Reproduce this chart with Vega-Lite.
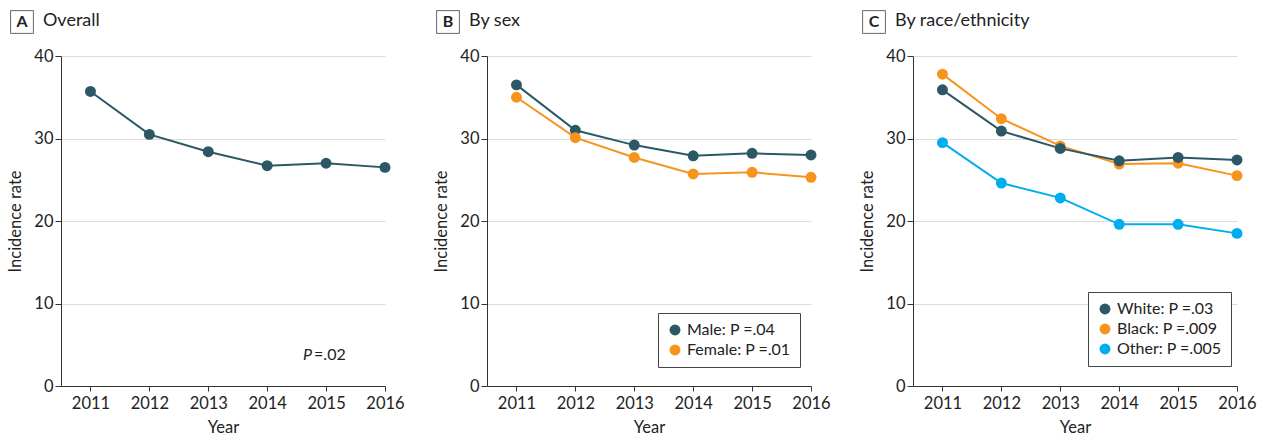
{
  "$schema": "https://vega.github.io/schema/vega-lite/v6.json",
  "padding": {"left": 7, "top": 8, "right": 5, "bottom": 2},
  "background": "white",
  "config": {
    "font": "Lato",
    "view": {"stroke": null},
    "axis": {
      "labelFontSize": 16.5,
      "titleFontSize": 16.5,
      "titleFontWeight": "normal",
      "labelColor": "#222",
      "titleColor": "#222",
      "domainColor": "#333",
      "tickColor": "#333",
      "gridColor": "#dcdcdc",
      "labelFont": "Lato",
      "titleFont": "Lato"
    },
    "legend": {
      "labelFontSize": 16,
      "labelFont": "Lato",
      "labelColor": "#222",
      "strokeColor": "#444",
      "fillColor": "white",
      "padding": 9,
      "rowPadding": 4,
      "symbolType": "circle",
      "symbolSize": 120,
      "symbolStrokeWidth": 0
    }
  },
  "spacing": 28,
  "resolve": {"scale": {"color": "independent"}, "legend": {"color": "independent"}},
  "hconcat": [
    {
      "width": 324,
      "height": 330,
      "data": {"values": [
        {"year": 2011, "rate": 35.7},
        {"year": 2012, "rate": 30.5},
        {"year": 2013, "rate": 28.4},
        {"year": 2014, "rate": 26.7},
        {"year": 2015, "rate": 27.0},
        {"year": 2016, "rate": 26.5}
      ]},
      "encoding": {
        "x": {"field": "year", "type": "quantitative", "title": "Year",
              "scale": {"domain": [2010.5, 2016], "nice": false, "zero": false},
              "axis": {"values": [2011, 2012, 2013, 2014, 2015, 2016], "format": "d", "grid": false, "tickSize": 5, "labelPadding": 4, "labelFlush": false, "titleY": 33}},
        "y": {"field": "rate", "type": "quantitative", "title": "Incidence rate",
              "scale": {"domain": [0, 40], "nice": false},
              "axis": {"values": [0, 10, 20, 30, 40], "tickSize": 6, "labelPadding": 2, "titlePadding": 10}}
      },
      "layer": [
        {"mark": {"type": "line", "strokeWidth": 2, "color": "#2c5866"}},
        {"mark": {"type": "point", "filled": true, "opacity": 1, "size": 120, "color": "#2c5866"}},
        {
          "data": {"values": [{"year": 2015, "rate": 3.8, "p": "P", "v": "=.02"}]},
          "mark": {"type": "text", "fontStyle": "italic", "fontSize": 16, "align": "right", "dx": -14, "color": "#222"},
          "encoding": {"text": {"field": "p"}}
        },
        {
          "data": {"values": [{"year": 2015, "rate": 3.8, "p": "P", "v": "=.02"}]},
          "mark": {"type": "text", "fontSize": 16, "align": "left", "dx": -12, "color": "#222"},
          "encoding": {"text": {"field": "v"}}
        },
        {
          "data": {"values": [{"year": 2010.5, "rate": 40, "letter": "A", "heading": "Overall"}]},
          "layer": [
            {"mark": {"type": "point", "shape": "square", "size": 520, "filled": false, "stroke": "#666", "strokeWidth": 1, "fill": "white", "opacity": 1, "xOffset": -39, "yOffset": -34}},
            {"mark": {"type": "text", "fontSize": 16, "fontWeight": "bold", "align": "center", "baseline": "middle", "dx": -39, "dy": -34, "color": "#222"}, "encoding": {"text": {"field": "letter"}}},
            {"mark": {"type": "text", "fontSize": 18, "align": "left", "baseline": "middle", "dx": -18, "dy": -35, "color": "#222"}, "encoding": {"text": {"field": "heading"}}}
          ]
        }
      ]
    },
    {
      "width": 324,
      "height": 330,
      "data": {"values": [
        {"year": 2011, "rate": 36.5, "sex": "Male"},
        {"year": 2012, "rate": 31.0, "sex": "Male"},
        {"year": 2013, "rate": 29.2, "sex": "Male"},
        {"year": 2014, "rate": 27.9, "sex": "Male"},
        {"year": 2015, "rate": 28.2, "sex": "Male"},
        {"year": 2016, "rate": 28.0, "sex": "Male"},
        {"year": 2011, "rate": 35.0, "sex": "Female"},
        {"year": 2012, "rate": 30.1, "sex": "Female"},
        {"year": 2013, "rate": 27.7, "sex": "Female"},
        {"year": 2014, "rate": 25.7, "sex": "Female"},
        {"year": 2015, "rate": 25.9, "sex": "Female"},
        {"year": 2016, "rate": 25.3, "sex": "Female"}
      ]},
      "encoding": {
        "x": {"field": "year", "type": "quantitative", "title": "Year",
              "scale": {"domain": [2010.5, 2016], "nice": false, "zero": false},
              "axis": {"values": [2011, 2012, 2013, 2014, 2015, 2016], "format": "d", "grid": false, "tickSize": 5, "labelPadding": 4, "labelFlush": false, "titleY": 33}},
        "y": {"field": "rate", "type": "quantitative", "title": "Incidence rate",
              "scale": {"domain": [0, 40], "nice": false},
              "axis": {"values": [0, 10, 20, 30, 40], "tickSize": 6, "labelPadding": 2, "titlePadding": 10}}
      },
      "layer": [
        {
          "mark": {"type": "line", "strokeWidth": 2},
          "encoding": {"color": {"field": "sex", "type": "nominal",
            "scale": {"domain": ["Male", "Female"], "range": ["#2c5866", "#f7941d"]},
            "legend": {"title": null, "orient": "none", "legendX": 171, "legendY": 257,
              "labelExpr": "datum.label == 'Male' ? 'Male: P =.04' : 'Female: P =.01'"}}}
        },
        {
          "mark": {"type": "point", "filled": true, "opacity": 1, "size": 120},
          "encoding": {"color": {"field": "sex", "type": "nominal",
            "scale": {"domain": ["Male", "Female"], "range": ["#2c5866", "#f7941d"]},
            "legend": {"title": null, "orient": "none", "legendX": 171, "legendY": 257,
              "labelExpr": "datum.label == 'Male' ? 'Male: P =.04' : 'Female: P =.01'"}}}
        },
        {
          "data": {"values": [{"year": 2010.5, "rate": 40, "letter": "B", "heading": "By sex"}]},
          "layer": [
            {"mark": {"type": "point", "shape": "square", "size": 520, "filled": false, "stroke": "#666", "strokeWidth": 1, "fill": "white", "opacity": 1, "xOffset": -39, "yOffset": -34}},
            {"mark": {"type": "text", "fontSize": 16, "fontWeight": "bold", "align": "center", "baseline": "middle", "dx": -39, "dy": -34, "color": "#222"}, "encoding": {"text": {"field": "letter"}}},
            {"mark": {"type": "text", "fontSize": 18, "align": "left", "baseline": "middle", "dx": -18, "dy": -35, "color": "#222"}, "encoding": {"text": {"field": "heading"}}}
          ]
        }
      ]
    },
    {
      "width": 324,
      "height": 330,
      "data": {"values": [
        {"year": 2011, "rate": 29.5, "race": "Other"},
        {"year": 2012, "rate": 24.6, "race": "Other"},
        {"year": 2013, "rate": 22.8, "race": "Other"},
        {"year": 2014, "rate": 19.6, "race": "Other"},
        {"year": 2015, "rate": 19.6, "race": "Other"},
        {"year": 2016, "rate": 18.5, "race": "Other"},
        {"year": 2011, "rate": 37.8, "race": "Black"},
        {"year": 2012, "rate": 32.4, "race": "Black"},
        {"year": 2013, "rate": 29.1, "race": "Black"},
        {"year": 2014, "rate": 26.9, "race": "Black"},
        {"year": 2015, "rate": 27.0, "race": "Black"},
        {"year": 2016, "rate": 25.5, "race": "Black"},
        {"year": 2011, "rate": 35.9, "race": "White"},
        {"year": 2012, "rate": 30.9, "race": "White"},
        {"year": 2013, "rate": 28.8, "race": "White"},
        {"year": 2014, "rate": 27.3, "race": "White"},
        {"year": 2015, "rate": 27.7, "race": "White"},
        {"year": 2016, "rate": 27.4, "race": "White"}
      ]},
      "encoding": {
        "x": {"field": "year", "type": "quantitative", "title": "Year",
              "scale": {"domain": [2010.5, 2016], "nice": false, "zero": false},
              "axis": {"values": [2011, 2012, 2013, 2014, 2015, 2016], "format": "d", "grid": false, "tickSize": 5, "labelPadding": 4, "labelFlush": false, "titleY": 33}},
        "y": {"field": "rate", "type": "quantitative", "title": "Incidence rate",
              "scale": {"domain": [0, 40], "nice": false},
              "axis": {"values": [0, 10, 20, 30, 40], "tickSize": 6, "labelPadding": 2, "titlePadding": 10}}
      },
      "layer": [
        {
          "mark": {"type": "line", "strokeWidth": 2},
          "encoding": {"color": {"field": "race", "type": "nominal",
            "scale": {"domain": ["White", "Black", "Other"], "range": ["#2c5866", "#f7941d", "#00aeef"]},
            "legend": {"title": null, "orient": "none", "legendX": 175, "legendY": 236,
              "labelExpr": "datum.label == 'White' ? 'White: P =.03' : datum.label == 'Black' ? 'Black: P =.009' : 'Other: P =.005'"}}}
        },
        {
          "mark": {"type": "point", "filled": true, "opacity": 1, "size": 120},
          "encoding": {"color": {"field": "race", "type": "nominal",
            "scale": {"domain": ["White", "Black", "Other"], "range": ["#2c5866", "#f7941d", "#00aeef"]},
            "legend": {"title": null, "orient": "none", "legendX": 175, "legendY": 236,
              "labelExpr": "datum.label == 'White' ? 'White: P =.03' : datum.label == 'Black' ? 'Black: P =.009' : 'Other: P =.005'"}}}
        },
        {
          "data": {"values": [{"year": 2010.5, "rate": 40, "letter": "C", "heading": "By race/ethnicity"}]},
          "layer": [
            {"mark": {"type": "point", "shape": "square", "size": 520, "filled": false, "stroke": "#666", "strokeWidth": 1, "fill": "white", "opacity": 1, "xOffset": -39, "yOffset": -34}},
            {"mark": {"type": "text", "fontSize": 16, "fontWeight": "bold", "align": "center", "baseline": "middle", "dx": -39, "dy": -34, "color": "#222"}, "encoding": {"text": {"field": "letter"}}},
            {"mark": {"type": "text", "fontSize": 18, "align": "left", "baseline": "middle", "dx": -18, "dy": -35, "color": "#222"}, "encoding": {"text": {"field": "heading"}}}
          ]
        }
      ]
    }
  ]
}
